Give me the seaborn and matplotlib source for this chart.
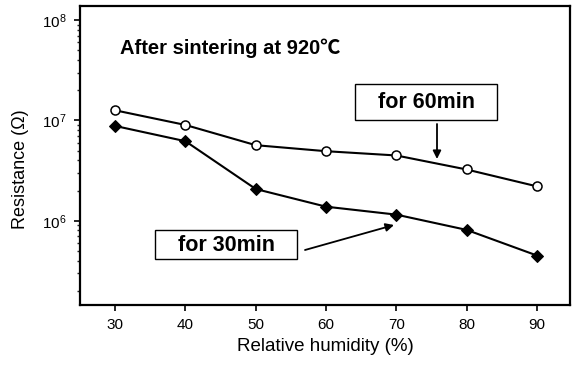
import matplotlib
matplotlib.use("Agg")
import matplotlib.pyplot as plt
import seaborn as sns
import pandas as pd
from matplotlib.patches import Rectangle
from matplotlib.ticker import LogLocator, NullFormatter

# Relative humidity (%) and resistance (ohm) for two sintering times
humidity = [30, 40, 50, 60, 70, 80, 90]
res_60min = [1.26e7, 9.0e6, 5.66e6, 4.93e6, 4.47e6, 3.24e6, 2.2e6]
res_30min = [8.8e6, 6.2e6, 2.07e6, 1.38e6, 1.15e6, 8.1e5, 4.5e5]
x_ticks = [30, 40, 50, 60, 70, 80, 90]

sns.set_theme(style="ticks")
plt.rcParams["font.family"] = ["Liberation Sans", "DejaVu Sans"]
plt.rcParams["text.color"] = "black"
plt.rcParams["axes.labelcolor"] = "black"

W, H = 572, 374


def px(x, y):
    """Pixel position (from top-left) to figure fraction."""
    return (x / W, 1 - y / H)


df60 = pd.DataFrame({"rh": humidity, "R": res_60min})
df30 = pd.DataFrame({"rh": humidity, "R": res_30min})

fig = plt.figure(figsize=(W / 100, H / 100), dpi=100)
ax = fig.add_axes([80 / W, 1 - 305 / H, 490 / W, 299 / H])

sns.lineplot(data=df60, x="rh", y="R", ax=ax, color="black", lw=1.5,
             marker="o", markersize=6.5, markerfacecolor="white",
             markeredgecolor="black", markeredgewidth=1.1)
sns.lineplot(data=df30, x="rh", y="R", ax=ax, color="black", lw=1.5,
             marker="D", markersize=6.5, markerfacecolor="black",
             markeredgecolor="black")

ax.set_yscale("log")
ax.set_ylim(10**5.16, 10**8.14)
ax.set_xlim(25, 94.7)
ax.set_xticks(x_ticks)
ax.yaxis.set_major_locator(LogLocator(base=10, numticks=10))
ax.yaxis.set_minor_locator(LogLocator(base=10, subs=range(2, 10), numticks=20))
ax.yaxis.set_minor_formatter(NullFormatter())

for s in ax.spines.values():
    s.set_linewidth(1.6)
    s.set_color("black")
ax.tick_params(axis="both", which="major", direction="out", length=4.5,
               width=1.2, labelsize=11, colors="black", pad=5)
ax.tick_params(axis="y", which="minor", direction="out", length=2.5, width=1)

ax.set_xlabel("Relative humidity (%)", fontsize=13.5, labelpad=4)
ax.set_ylabel("Resistance (Ω)", fontsize=13)
ax.yaxis.set_label_coords(-0.105, 0.455)

fig.text(*px(120, 48), "After sintering at 920℃", fontsize=14.5,
         fontweight="bold", va="center", ha="left",
         family=["Liberation Sans", "Noto Sans CJK SC", "DejaVu Sans"])

# Labelled boxes
for (x0, y0, x1, y1), label in [((355, 84, 497, 120), "for 60min"),
                                ((155, 230, 297, 259), "for 30min")]:
    fig.patches.append(Rectangle(px(x0, y1), (x1 - x0) / W, (y1 - y0) / H,
                                 transform=fig.transFigure, facecolor="white",
                                 edgecolor="black", lw=1.0, zorder=5))
    fig.text(*px((x0 + x1) / 2, (y0 + y1) / 2 + 1), label, fontsize=15.5,
             fontweight="bold", ha="center", va="center", zorder=6)

arrow = dict(arrowstyle="-|>", color="black", lw=1.3, mutation_scale=12,
             shrinkA=0, shrinkB=0)
ax.annotate("", xy=px(437, 159), xytext=px(437, 124),
            xycoords="figure fraction", textcoords="figure fraction",
            arrowprops=arrow)
ax.annotate("", xy=px(394, 225), xytext=px(305, 250),
            xycoords="figure fraction", textcoords="figure fraction",
            arrowprops=arrow)

fig.savefig("out.png", dpi=100)
